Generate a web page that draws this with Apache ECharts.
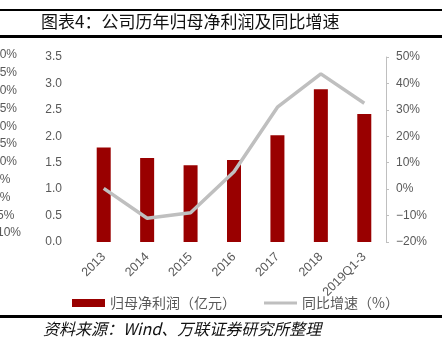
<!DOCTYPE html>
<html><head><meta charset="utf-8">
<script src="https://cdn.jsdelivr.net/npm/echarts@6/dist/echarts.min.js"></script>
<style>html,body{margin:0;padding:0;background:#fff}#c{width:442px;height:346px}</style>
</head><body><div id="c"></div>
<script>
const categories = ['2013','2014','2015','2016','2017','2018','2019Q1-3'];
const profit = [1.79, 1.59, 1.45, 1.55, 2.02, 2.89, 2.42];
const growth = [0.3, -11.0, -8.9, 6.6, 31.0, 43.6, 32.5];
const leftTicks = {min: 0, max: 3.5, interval: 0.5};
const rightTicks = {min: -20, max: 50, interval: 10};
const strayLabels = ['40%','35%','30%','25%','20%','15%','10%','5%','0%','-5%','-10%'];
const titleText = '图表4：公司历年归母净利润及同比增速';
const sourceText = '资料来源：Wind、万联证券研究所整理';
const seriesNames = ['归母净利润（亿元）','同比增速（%）'];

const chart = echarts.init(document.getElementById('c'), null, {renderer:'canvas'});
const gray = '#595959';
const stray = strayLabels.map((t,i)=>({type:'text', left:-7, top: 49 + i*17.8,
  style:{text:t, fill:gray, font:'12px "Liberation Sans", Arial, sans-serif'}}));
chart.setOption({
  animation:false,
  grid:{left:82, right:56, top:57, bottom:104},
  legend:{left:67, top:291, itemWidth:33, itemHeight:8, itemGap:28,
    textStyle:{color:gray, fontSize:14, fontFamily:'"Noto Sans CJK SC", sans-serif'},
    data:[{name:seriesNames[0], icon:'rect'},
          {name:seriesNames[1], icon:'path://M0,0L0,0ZM33,8L33,8ZM0,2.5L33,2.5L33,5.5L0,5.5Z',
           itemStyle:{color:'#bfbfbf'}}]},
  xAxis:{type:'category', data:categories,
    axisLine:{show:false}, axisTick:{show:false},
    axisLabel:{rotate:45, color:gray, fontSize:12.5, margin:13, fontFamily:'"Liberation Sans", Arial, sans-serif'}},
  yAxis:[
    {type:'value', min:leftTicks.min, max:leftTicks.max, interval:leftTicks.interval,
     axisLine:{show:false}, axisTick:{show:false}, splitLine:{show:false},
     axisLabel:{color:gray, fontSize:12, margin:20, formatter:v=>v.toFixed(1),
       fontFamily:'"Liberation Sans", Arial, sans-serif'}},
    {type:'value', position:'right', min:rightTicks.min, max:rightTicks.max, interval:rightTicks.interval,
     axisLine:{show:true, lineStyle:{color:'#bfbfbf', width:1}},
     axisTick:{show:true, length:3, lineStyle:{color:'#bfbfbf'}},
     splitLine:{show:false},
     axisLabel:{color:gray, fontSize:12, margin:10, formatter:v=>(v<0?'\u2212'+(-v):v)+'%',
       fontFamily:'"Liberation Sans", Arial, sans-serif'}}
  ],
  series:[
    {name:seriesNames[0], type:'bar', data:profit, barWidth:14, yAxisIndex:0,
     itemStyle:{color:'#990000'}},
    {name:seriesNames[1], type:'line', data:growth, yAxisIndex:1, symbol:'none',
     lineStyle:{color:'#bfbfbf', width:3.5}, itemStyle:{color:'#bfbfbf'}}
  ],
  graphic:[
    {type:'rect', shape:{x:0,y:9,width:442,height:2}, style:{fill:'#000'}},
    {type:'rect', shape:{x:0,y:35,width:442,height:3}, style:{fill:'#000'}},
    {type:'rect', shape:{x:0,y:315,width:442,height:3}, style:{fill:'#000'}},
    {type:'text', left:41, top:13, style:{text:titleText, fill:'#111', font:'17px "Noto Sans CJK SC", sans-serif'}},
    {type:'text', left:43, top:321, style:{text:sourceText, fill:'#111', font:'italic 16px "Noto Sans CJK SC", sans-serif'}},
    ...stray
  ]
});
</script></body></html>
